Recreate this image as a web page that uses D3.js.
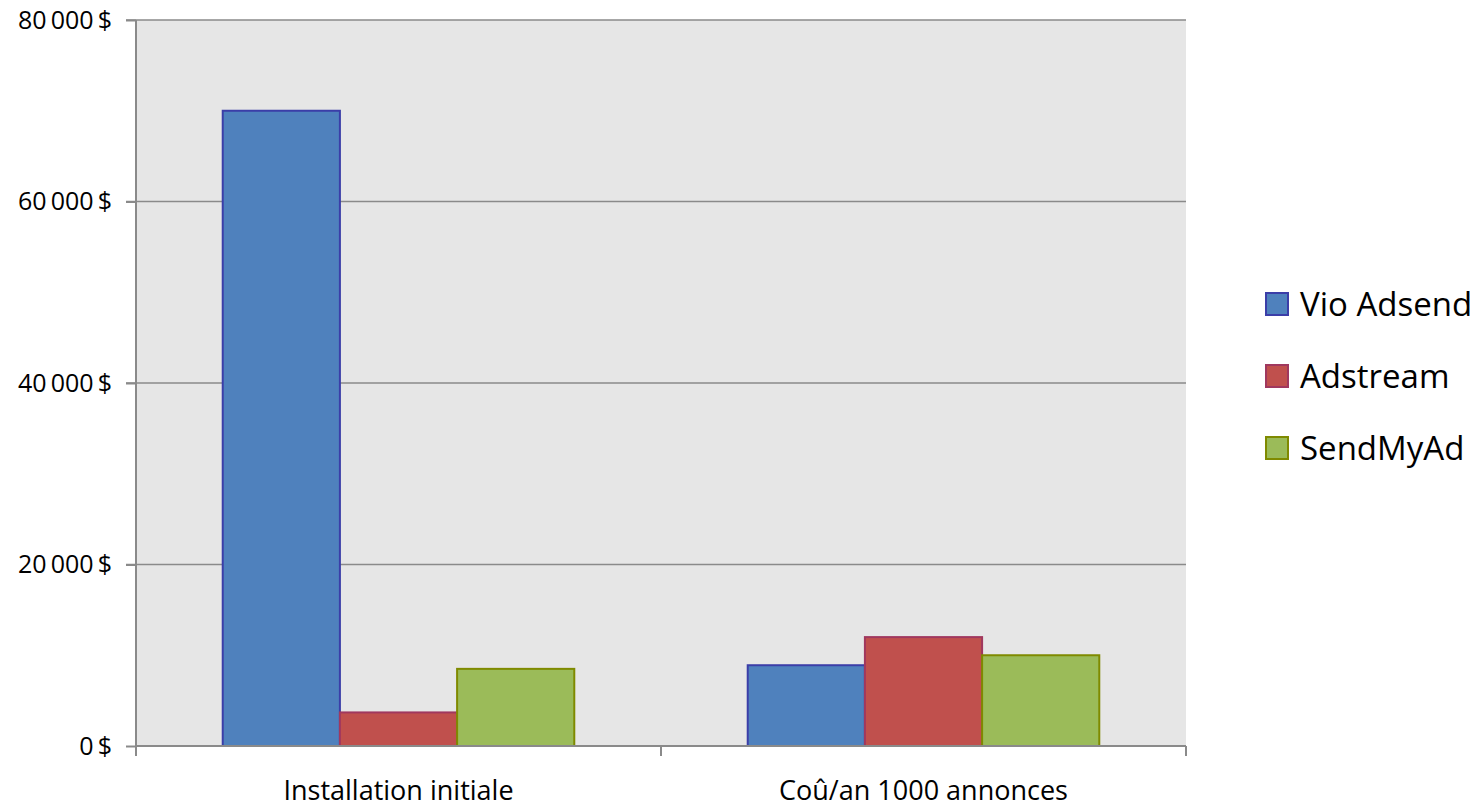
<!DOCTYPE html>
<html>
<head>
    <meta charset="utf-8">
    <script src="https://d3js.org/d3.v7.min.js"></script>
</head>
<body style="margin: 0; padding: 0; background: #fff;">
    <div id="chart"></div>
    <script>
        // données
        var categories = ["Installation initiale", "Coû/an 1000 annonces"];
        var series = ["Vio Adsend", "Adstream", "SendMyAd"];
        var vioAdsend = [70000, 8900];
        var adstream = [3700, 12000];
        var sendMyAd = [8500, 10000];
        var yTicks = [0, 20000, 40000, 60000, 80000];

        var fills = ["#4f81bd", "#c0504d", "#9bbb59"];
        var strokes = ["#3b3ea8", "#a0385e", "#7f8a00"];

        var width = 1482, height = 810;
        var mLeft = 136, mRight = 1186, mTop = 20, mBottom = 746;

        var data = categories.map(function (c, i) {
            return { cat: c, values: [vioAdsend[i], adstream[i], sendMyAd[i]] };
        });

        var svg = d3.select("#chart").append("svg")
            .attr("width", width)
            .attr("height", height)
            .style("font-family", "'Open Sans', sans-serif");

        var x0 = d3.scaleBand().domain(categories).range([mLeft, mRight]).padding(0);
        var x1 = d3.scaleBand().domain(series).range([0, x0.bandwidth()])
            .paddingInner(0).paddingOuter(0.74);
        var y = d3.scaleLinear().domain([0, 80000]).range([mBottom, mTop]);

        // fond de la zone de tracé
        svg.append("rect")
            .attr("x", mLeft).attr("y", mTop)
            .attr("width", mRight - mLeft).attr("height", mBottom - mTop)
            .attr("fill", "#e6e6e6");

        // grille horizontale
        svg.selectAll(".grid")
            .data(yTicks.filter(d => d > 0))
            .enter().append("line")
            .attr("x1", mLeft - 10).attr("x2", mRight)
            .attr("y1", d => y(d)).attr("y2", d => y(d))
            .attr("stroke", "#8a8a8a").attr("stroke-width", 1.5);

        // barres
        var groups = svg.selectAll(".grp")
            .data(data)
            .enter().append("g")
            .attr("transform", d => "translate(" + x0(d.cat) + ",0)");

        groups.selectAll("rect")
            .data(d => d.values.map((v, i) => ({ s: series[i], v: v, i: i })))
            .enter().append("rect")
            .attr("x", d => x1(d.s))
            .attr("y", d => y(d.v))
            .attr("width", x1.bandwidth())
            .attr("height", d => mBottom - y(d.v))
            .attr("fill", d => fills[d.i])
            .attr("stroke", d => strokes[d.i])
            .attr("stroke-width", 2);

        // axe Y
        var yAxis = svg.append("g")
            .attr("transform", "translate(" + mLeft + ",0)")
            .call(d3.axisLeft(y).tickValues(yTicks).tickSize(10).tickPadding(14)
                .tickFormat(d => d3.format(",")(d).replace(/,/g, "\u2009") + "\u2009$"));
        yAxis.select(".domain").attr("stroke", "#8a8a8a").attr("stroke-width", 2)
            .attr("d", "M0," + mTop + "V" + (mBottom + 10));
        yAxis.selectAll(".tick line").attr("stroke", "#8a8a8a").attr("stroke-width", 2);
        yAxis.selectAll("text").style("font-size", "25px").attr("fill", "#000")
            .style("font-family", "'Open Sans', sans-serif");

        // axe X
        var xAxis = svg.append("g")
            .attr("transform", "translate(0," + mBottom + ")")
            .call(d3.axisBottom(x0).tickSize(0).tickPadding(35));
        xAxis.select(".domain").attr("stroke", "#8a8a8a").attr("stroke-width", 2)
            .attr("d", "M" + mLeft + ",0H" + mRight);
        xAxis.selectAll("text").style("font-size", "27px").attr("fill", "#000")
            .style("font-family", "'Open Sans', sans-serif");

        var xTickPos = [mLeft].concat(categories.map(c => x0(c) + x0.bandwidth()));
        svg.selectAll(".xt")
            .data(xTickPos)
            .enter().append("line")
            .attr("x1", d => d).attr("x2", d => d)
            .attr("y1", mBottom).attr("y2", mBottom + 10)
            .attr("stroke", "#8a8a8a").attr("stroke-width", 2);

        // légende
        var legend = svg.selectAll(".leg")
            .data(series)
            .enter().append("g")
            .attr("transform", (d, i) => "translate(1266," + (293 + i * 72) + ")");
        legend.append("rect")
            .attr("width", 22).attr("height", 22)
            .attr("fill", (d, i) => fills[i])
            .attr("stroke", (d, i) => strokes[i])
            .attr("stroke-width", 2);
        legend.append("text")
            .attr("x", 34).attr("y", 11)
            .attr("dy", "0.36em")
            .style("font-size", "33px")
            .text(d => d);
    </script>
</body>
</html>
